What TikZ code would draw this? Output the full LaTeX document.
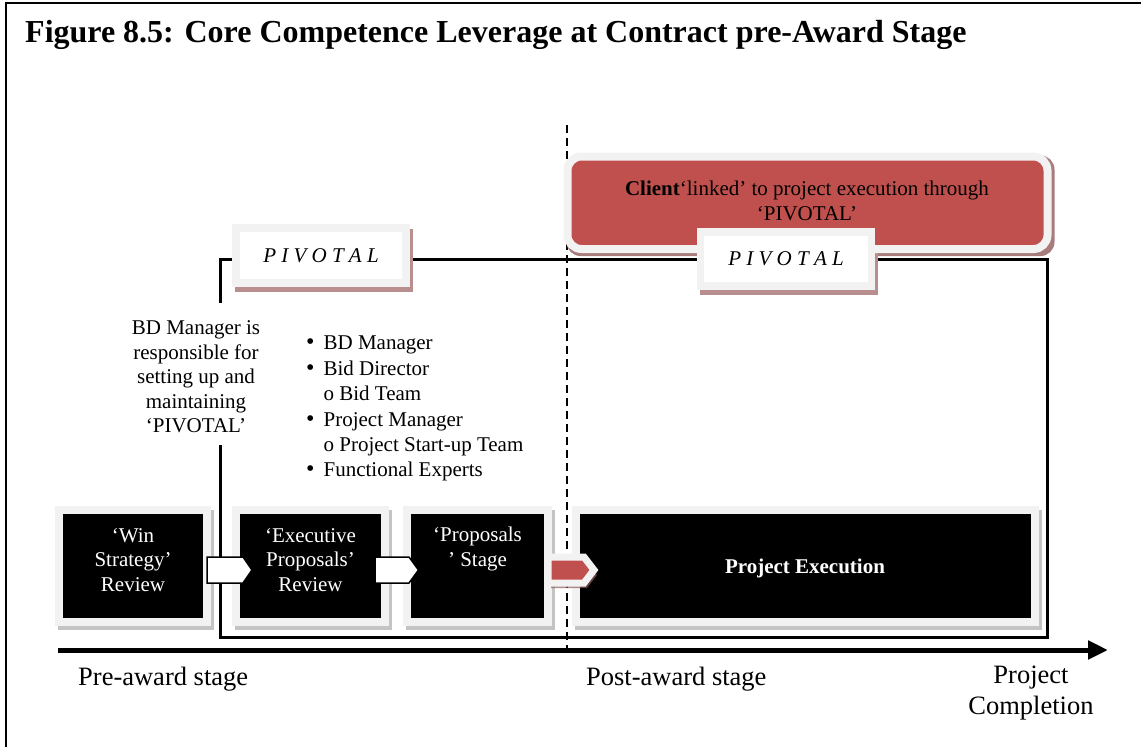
\documentclass[tikz,border=0pt]{standalone}
\usepackage{fontspec}
\setmainfont{Liberation Serif}
\usetikzlibrary{calc,arrows.meta}
\pgfdeclarelayer{lines}
\pgfdeclarelayer{shadows}
\pgfsetlayers{lines,shadows,main}
\definecolor{lgray}{HTML}{F2F2F2}
\definecolor{bshadow}{HTML}{C4C4C4}
\definecolor{cred}{HTML}{C0504D}
\definecolor{rshadow}{HTML}{A87C7C}
\definecolor{pshadow}{HTML}{B98E8E}
\definecolor{rcshadow}{HTML}{8E5A5A}
\begin{document}
\begin{tikzpicture}[x=1pt,y=-1pt,
  body/.style={font=\fontsize{21}{24.5}\selectfont, inner sep=0pt, align=center},
  wbody/.style={body, text=white},
  blackbox/.style={draw=lgray, fill=black, line width=8pt, minimum height=112pt, inner sep=0pt},
  pivbox/.style={draw=lgray, fill=white, line width=7.5pt, minimum width=170pt, minimum height=55pt, inner sep=0pt, font=\fontsize{21}{24}\selectfont\itshape},
  chevw/.style={draw=black, fill=white, line width=1.5pt, line join=miter},
  bracket/.style={line width=3pt, line join=miter},
  label/.style={font=\fontsize{26.5}{31}\selectfont, inner sep=0pt, align=center}]
\useasboundingbox (0,0) rectangle (1141,747);

% frame
\draw[line width=2pt] (5.5,747) -- (5.5,2.5) -- (1141,2.5);

% title
\node[anchor=west, inner sep=0pt, font=\fontsize{32}{36}\selectfont\bfseries] (title) at (25,35)
  {Figure 8.5: Core Competence Leverage at Contract pre-Award Stage};

% boxes
\node[blackbox, minimum width=148pt] (b1) at (133,566) {};
\node[blackbox, minimum width=149pt] (b2) at (310.5,566) {};
\node[blackbox, minimum width=141pt] (b3) at (477.5,566) {};
\node[blackbox, minimum width=459pt] (b4) at (805.5,566) {};

\node[wbody] (t1) at (133,560) {‘Win\\Strategy’\\Review};
\node[wbody] (t2) at (310.5,560) {‘Executive\\Proposals’\\Review};
\node[wbody] (t3) at (477.5,549) {‘Proposals\\’ Stage};
\node[wbody, font=\fontsize{21}{24.5}\selectfont\bfseries] (t4) at (805,568) {Project Execution};

% client box
\node[draw=lgray, fill=cred, line width=8pt, rounded corners=14pt, minimum width=480pt, minimum height=92.5pt, inner sep=0pt] (client) at (807.5,202.75) {};
\node[body] (clienttext) at (807,201) {\textbf{Client}‘linked’ to project execution through\\‘PIVOTAL’};

% PIVOTAL boxes
\node[pivbox] (pv1) at (321,255.5) {P I V O T A L};
\node[pivbox, minimum width=171pt, minimum height=54pt] (pv2) at (786,259) {P I V O T A L};

% shadows
\begin{pgfonlayer}{shadows}
  \foreach \b in {b1,b2,b3,b4}
    \fill[bshadow] ($(\b.north west)+(3,4)$) rectangle ($(\b.south east)+(3,4)$);
  \fill[rshadow, rounded corners=14pt] ($(client.north west)+(3,3)$) rectangle ($(client.south east)+(3,3)$);
  \foreach \b in {pv1,pv2}
    \fill[pshadow] ($(\b.north west)+(3,5)$) rectangle ($(\b.south east)+(3,5)$);
\end{pgfonlayer}

% lines below
\begin{pgfonlayer}{lines}
  \draw[dash pattern=on 8pt off 5pt, line width=1.5pt] (567,125) -- (567,656);
  \draw[bracket] (220,303) -- (220,259) -- (1047,259) -- (1047,637) -- (220,637) -- (220,445);
  \draw[line width=5pt, -{Triangle[length=20pt,width=18pt]}] (58,650) -- (1108,650);
\end{pgfonlayer}

% chevrons
\draw[chevw] (207,557) -- (243,557) -- (252,570) -- (243,583) -- (207,583) -- cycle;
\draw[chevw] (375,557) -- (409,557) -- (418.5,570) -- (409,583) -- (375,583) -- cycle;
\fill[rcshadow, opacity=0.7] (551,562) -- (587,562) -- (597,575) -- (587,588) -- (551,588) -- cycle;
\draw[draw=lgray, fill=cred, line width=7pt, line join=miter] (548,557) -- (584,557) -- (594,570) -- (584,583) -- (548,583) -- cycle;

% left text
\node[body] (bdtext) at (196,377) {BD Manager is\\responsible for\\setting up and\\maintaining\\‘PIVOTAL’};

% list
\node[anchor=north west, inner sep=0pt, font=\fontsize{21}{25.4}\selectfont] (list) at (306,332) {%
  \begin{tabular}{@{}l@{\hspace{9pt}}l@{}}
  {\fontsize{24}{25.4}\selectfont •} & BD Manager\\
  {\fontsize{24}{25.4}\selectfont •} & Bid Director\\
    & o Bid Team\\
  {\fontsize{24}{25.4}\selectfont •} & Project Manager\\
    & o Project Start-up Team\\
  {\fontsize{24}{25.4}\selectfont •} & Functional Experts
  \end{tabular}};

% bottom labels
\node[label, anchor=west] (pre) at (78,679) {Pre-award stage};
\node[label, anchor=west] (post) at (586,679) {Post-award stage};
\node[label] (compl) at (1031,693) {Project\\Completion};
\end{tikzpicture}
\end{document}
